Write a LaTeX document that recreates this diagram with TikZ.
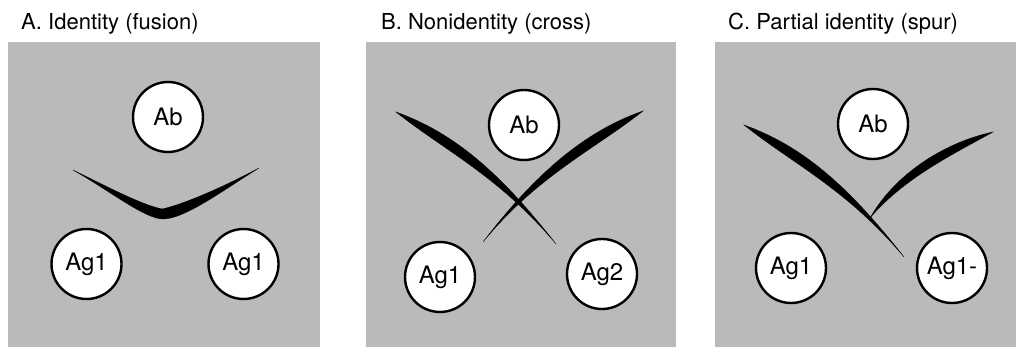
\documentclass[tikz,border=0pt]{standalone}
\usepackage{fontspec}
\setmainfont{TeX Gyre Heros}
\definecolor{panelgray}{RGB}{186,186,186}
\begin{document}
\begin{tikzpicture}[x=1pt,y=-1pt,
  panel/.style={fill=panelgray, draw=none},
  disc/.style={circle, draw=black, fill=white, line width=2.4pt, minimum size=70pt, inner sep=0pt, font=\fontsize{24}{27}\selectfont},
  ptitle/.style={anchor=base west, inner sep=0pt, font=\fontsize{22}{26}\selectfont},
  band/.style={fill=black, draw=black, line width=0.3pt, line join=miter}]
\useasboundingbox (0,0) rectangle (1016,347);
% panels
\fill[panel] (8,42) rectangle (320,347);
\fill[panel] (366,42) rectangle (676,347);
\fill[panel] (715,42) rectangle (1016,347);
% titles
\node[ptitle] (ta) at (21,30) {A. Identity (fusion)};
\node[ptitle] (tb) at (381,30) {B. Nonidentity (cross)};
\node[ptitle] (tc) at (728,30) {C. Partial identity (spur)};
% panel A
\node[disc] (abA) at (168,117) {Ab};
\node[disc] (agA1) at (86.5,264) {Ag1};
\node[disc] (agA2) at (243.5,264) {Ag1};
\fill[band] (73,170) .. controls (112,189) and (140,204) .. (162,209)
  .. controls (185,204) and (225,186) .. (259,168)
  .. controls (225,189) and (185,219) .. (163,219)
  .. controls (145,219) and (110,191) .. (73,170) -- cycle;
% panel B
\node[disc] (abB) at (524,125) {Ab};
\node[disc] (agB1) at (440,277) {Ag1};
\node[disc] (agB2) at (602,274) {Ag2};
\fill[band] (396,112) .. controls (455,133) and (501.2,174) .. (556,244)
  .. controls (498.8,176) and (445,151) .. (396,112) -- cycle;
\fill[band] (643,111) .. controls (595,149) and (537.2,175.9) .. (483,242)
  .. controls (534.8,174.1) and (585,131) .. (643,111) -- cycle;
% panel C
\node[disc] (abC) at (873,124) {Ab};
\node[disc] (agC1) at (791,268) {Ag1};
\node[disc] (agC2) at (952,268) {Ag1-};
\begin{scope}[shift={(348,13)}]
\fill[band] (396,112) .. controls (455,133) and (501.2,174) .. (556,244)
  .. controls (498.8,176) and (445,151) .. (396,112) -- cycle;
\end{scope}
\fill[band] (993,132) .. controls (952.5,154.5) and (904,178) .. (870,218)
  .. controls (896,172) and (947.5,141.5) .. (993,132) -- cycle;
\end{tikzpicture}
\end{document}
